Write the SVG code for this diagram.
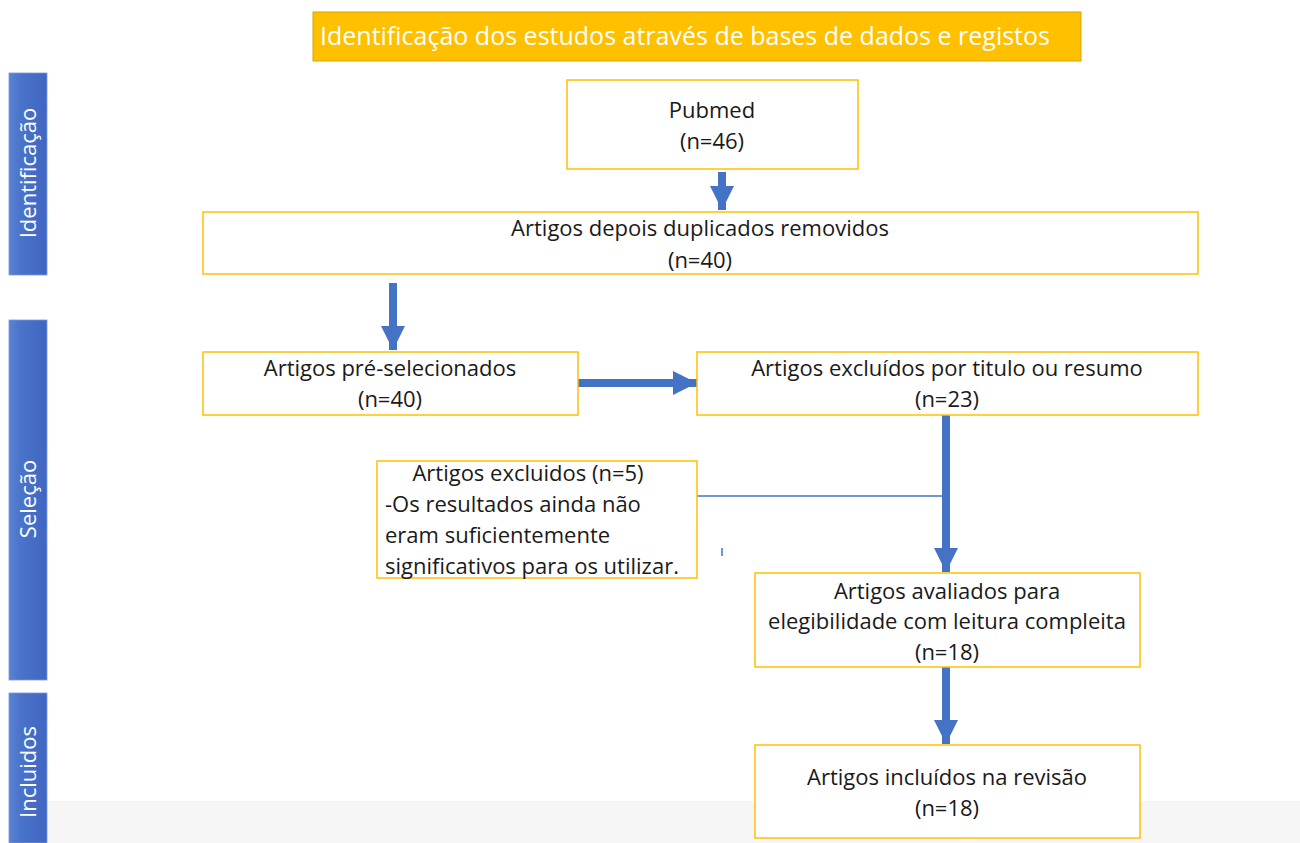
<svg xmlns="http://www.w3.org/2000/svg" width="1300" height="843" viewBox="0 0 1300 843">
<defs>
<linearGradient id="bar" x1="0" y1="0" x2="1" y2="0">
<stop offset="0" stop-color="#5b82d2"/>
<stop offset="0.3" stop-color="#4a73cb"/>
<stop offset="1" stop-color="#3f66c2"/>
</linearGradient>
<marker id="ah" viewBox="0 0 10 10" refX="10" refY="5" markerWidth="3" markerHeight="3" orient="auto" markerUnits="strokeWidth">
<path d="M0,0 L10,5 L0,10 z" fill="#4472C4"/>
</marker>
</defs>
<style>
.box{fill:#fff;stroke:#FFC000;stroke-width:1.5}
.t{font-family:"Open Sans","Liberation Sans",sans-serif;font-size:22px;fill:#1a1a1a;text-anchor:middle}
.tl{font-family:"Open Sans","Liberation Sans",sans-serif;font-size:22px;fill:#1a1a1a}
.side{font-family:"Open Sans","Liberation Sans",sans-serif;font-size:22px;fill:#fff;text-anchor:middle}
.arr{stroke:#4472C4;stroke-width:8;fill:none;marker-end:url(#ah)}
</style>
<rect x="0" y="0" width="1300" height="843" fill="#fff"/>
<rect x="10" y="801" width="1290" height="42" fill="#f6f6f6"/>
<g id="title">
<rect x="313" y="12" width="768" height="49" fill="#FFC000" stroke="#d9a400" stroke-width="1"/>
<text x="320" y="45" font-family="Open Sans,Liberation Sans,sans-serif" font-size="25" fill="#fff">Identificação dos estudos através de bases de dados e registos</text>
</g>
<g id="bar-identificacao">
<rect x="9" y="73" width="38" height="202" fill="url(#bar)" stroke="#7a9ae0" stroke-width="0.8"/>
<text class="side" transform="translate(36,173) rotate(-90)">Identificação</text>
</g>
<g id="bar-selecao">
<rect x="9" y="320" width="38" height="360" fill="url(#bar)" stroke="#7a9ae0" stroke-width="0.8"/>
<text class="side" transform="translate(36,499) rotate(-90)">Seleção</text>
</g>
<g id="bar-incluidos">
<rect x="9" y="693" width="38" height="150" fill="url(#bar)" stroke="#7a9ae0" stroke-width="0.8"/>
<text class="side" transform="translate(36,772) rotate(-90)">Incluidos</text>
</g>
<g id="connectors">
<line class="arr" x1="722" y1="172" x2="722" y2="210"/>
<line class="arr" x1="393" y1="283" x2="393" y2="350"/>
<line class="arr" x1="578" y1="383" x2="697" y2="383"/>
<line class="arr" x1="946" y1="415" x2="946" y2="572"/>
<line class="arr" x1="946" y1="667" x2="946" y2="744"/>
<line x1="697" y1="496" x2="946" y2="496" stroke="#4472C4" stroke-width="1.5"/>
<line x1="722" y1="548" x2="722" y2="556" stroke="#4472C4" stroke-width="1.5"/>
</g>
<g id="pubmed">
<rect class="box" x="567" y="80" width="291" height="89"/>
<text class="t" x="712" y="118">Pubmed</text>
<text class="t" x="712" y="149">(n=46)</text>
</g>
<g id="duplicados">
<rect class="box" x="203" y="212" width="995" height="62"/>
<text class="t" x="700" y="236">Artigos depois duplicados removidos</text>
<text class="t" x="700" y="268">(n=40)</text>
</g>
<g id="preselecionados">
<rect class="box" x="203" y="352" width="375" height="63"/>
<text class="t" x="390" y="376">Artigos pré-selecionados</text>
<text class="t" x="390" y="407">(n=40)</text>
</g>
<g id="excluidos-titulo">
<rect class="box" x="697" y="352" width="501" height="63"/>
<text class="t" x="947" y="376">Artigos excluídos por titulo ou resumo</text>
<text class="t" x="947" y="407">(n=23)</text>
</g>
<g id="excluidos-5">
<rect class="box" x="377" y="461" width="320" height="117"/>
<text class="t" x="528" y="481">Artigos excluidos (n=5)</text>
<text class="tl" x="385" y="512">-Os resultados ainda não</text>
<text class="tl" x="385" y="543">eram suficientemente</text>
<text class="tl" x="385" y="574">significativos para os utilizar.</text>
</g>
<g id="avaliados">
<rect class="box" x="755" y="573" width="385" height="94"/>
<text class="t" x="947" y="599">Artigos avaliados para</text>
<text class="t" x="947" y="629">elegibilidade com leitura compleita</text>
<text class="t" x="947" y="660">(n=18)</text>
</g>
<g id="incluidos">
<rect class="box" x="755" y="745" width="385" height="93"/>
<text class="t" x="947" y="785">Artigos incluídos na revisão</text>
<text class="t" x="947" y="816">(n=18)</text>
</g>
</svg>
